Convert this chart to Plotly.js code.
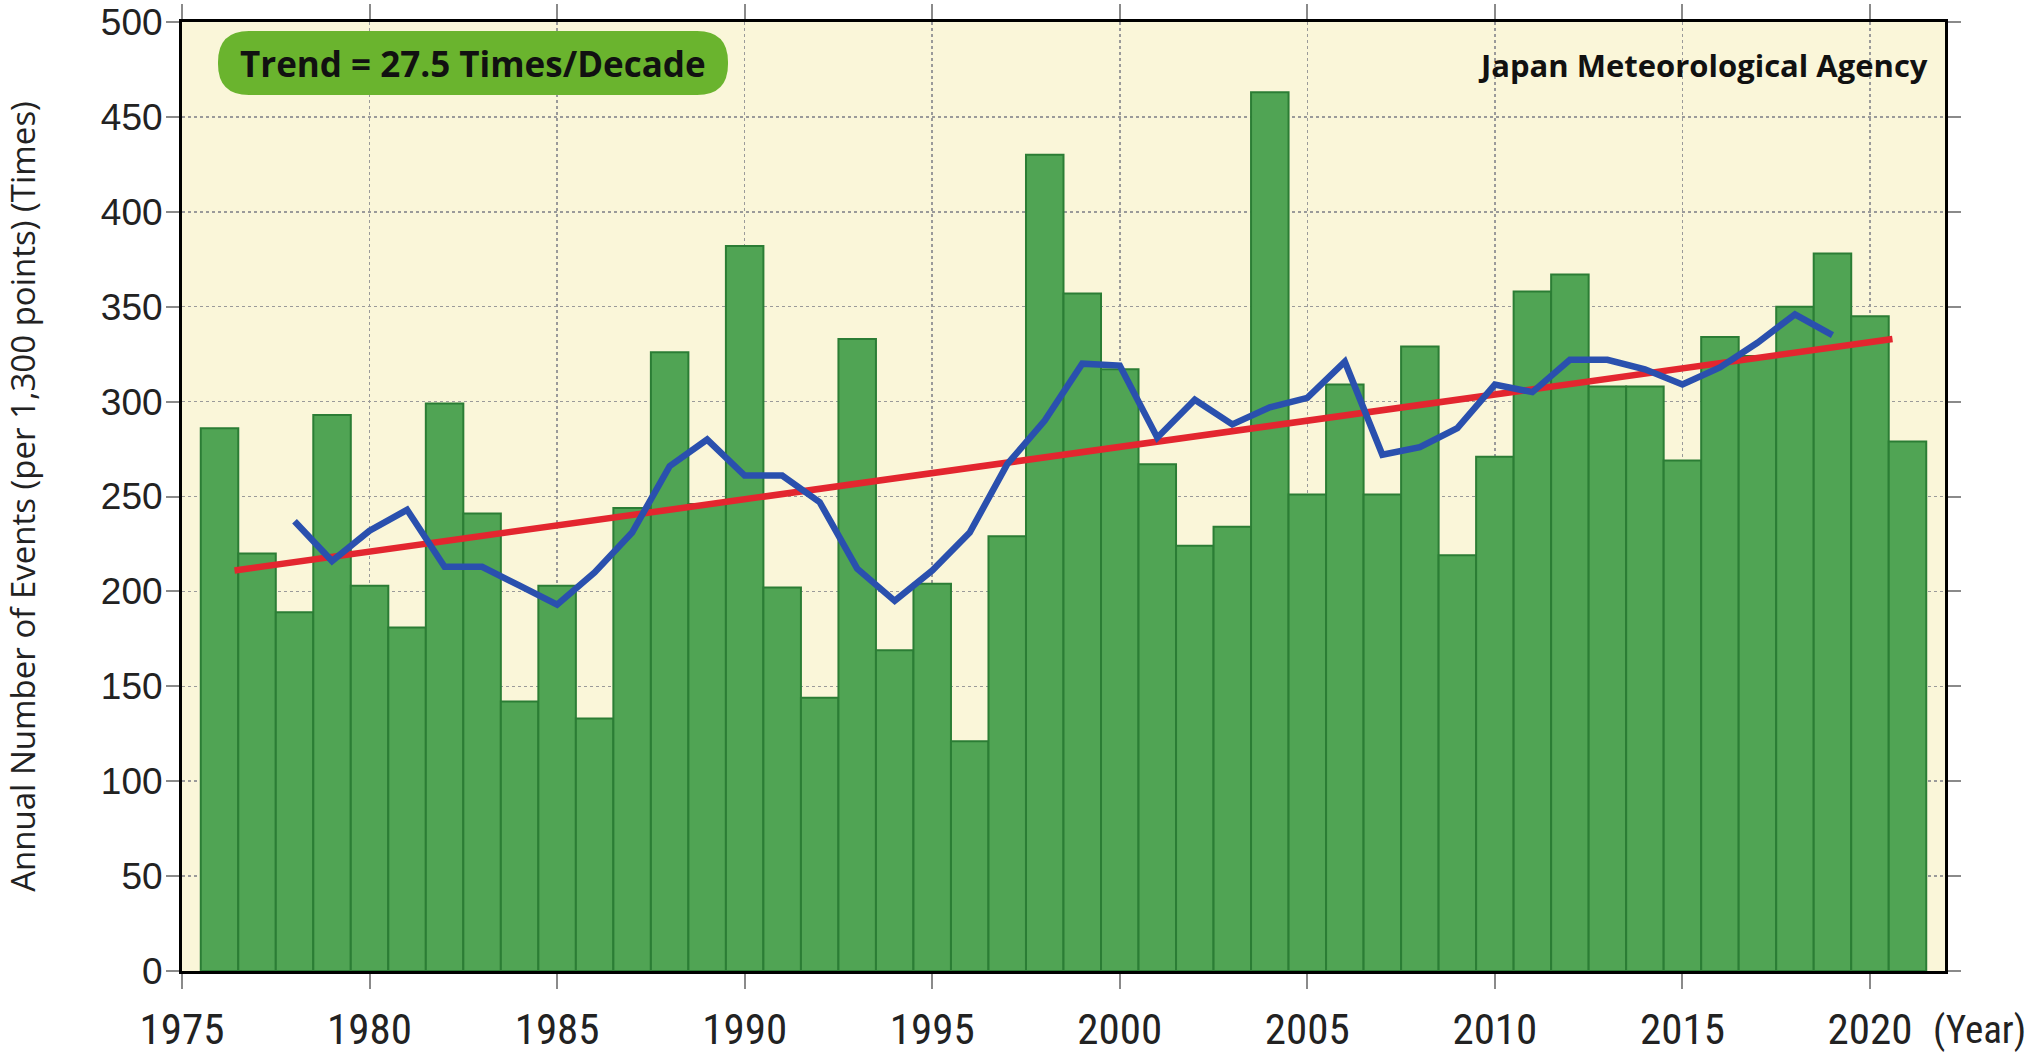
<!DOCTYPE html>
<html>
<head>
<meta charset="utf-8">
<script src="https://cdn.plot.ly/plotly-3.0.1.min.js"></script>
<style>
  html, body { margin: 0; padding: 0; background: #ffffff; }
  #chart { width: 2030px; height: 1053px; }
</style>
</head>
<body>
<div id="chart"></div>
<script>
// ---- Data ----
const years = [1976,1977,1978,1979,1980,1981,1982,1983,1984,1985,1986,1987,1988,1989,1990,
               1991,1992,1993,1994,1995,1996,1997,1998,1999,2000,2001,2002,2003,2004,2005,
               2006,2007,2008,2009,2010,2011,2012,2013,2014,2015,2016,2017,2018,2019,2020,2021];
const annualCounts = [286,220,189,293,203,181,299,241,142,203,133,244,326,246,382,
                      202,144,333,169,204,121,229,430,357,317,267,224,234,463,251,
                      309,251,329,219,271,358,367,308,308,269,334,324,350,378,345,279];

const meanYears = [1978,1979,1980,1981,1982,1983,1984,1985,1986,1987,1988,1989,1990,1991,
                   1992,1993,1994,1995,1996,1997,1998,1999,2000,2001,2002,2003,2004,2005,
                   2006,2007,2008,2009,2010,2011,2012,2013,2014,2015,2016,2017,2018,2019];
const runningMean5yr = [237,216,232,243,213,213,203,193,210,231,266,280,261,261,
                        247,212,195,211,231,267,290,320,319,281,301,288,297,302,
                        321,272,276,286,309,305,322,322,317,309,318,331,346,335];

const trendYears = [1976.4, 2020.6];
const trendValues = [211, 333];

const xTickVals = [1975,1980,1985,1990,1995,2000,2005,2010,2015,2020];
const xTickText = ["1975","1980","1985","1990","1995","2000","2005","2010","2015","2020"];
const yTickVals = [0,50,100,150,200,250,300,350,400,450,500];

const trendLabel = "Trend = 27.5 Times/Decade";
const sourceLabel = "Japan Meteorological Agency";
const yTitle = "Annual Number of Events (per 1,300 points) (Times)";
const xUnit = "(Year)";

// ---- Layout geometry (pixels) ----
const W = 2030, H = 1053;
const M = { l: 182, r: 85, t: 22, b: 82 };
const PW = W - M.l - M.r, PH = H - M.t - M.b;

const narrowFont = 'Liberation Sans Narrow, Arial Narrow, Roboto Condensed, Liberation Sans, sans-serif';

// rounded box for the trend label (paper coordinates)
function roundedBox(px0, py0, px1, py1, rad) {
  const x0 = (px0 - M.l) / PW, x1 = (px1 - M.l) / PW;
  const y0 = (H - M.b - py1) / PH, y1 = (H - M.b - py0) / PH;
  const rx = rad / PW, ry = rad / PH;
  return `M ${x0 + rx},${y1} L ${x1 - rx},${y1} Q ${x1},${y1} ${x1},${y1 - ry} ` +
         `L ${x1},${y0 + ry} Q ${x1},${y0} ${x1 - rx},${y0} L ${x0 + rx},${y0} ` +
         `Q ${x0},${y0} ${x0},${y0 + ry} L ${x0},${y1 - ry} Q ${x0},${y1} ${x0 + rx},${y1} Z`;
}

const traces = [
  {
    type: 'bar', x: years, y: annualCounts, width: 1,
    marker: { color: '#50a454', line: { color: '#2b7d35', width: 2 } },
    hoverinfo: 'x+y', showlegend: false
  },
  {
    type: 'scatter', mode: 'lines', x: trendYears, y: trendValues,
    line: { color: '#e3262f', width: 6.5 }, showlegend: false
  },
  {
    type: 'scatter', mode: 'lines', x: meanYears, y: runningMean5yr,
    line: { color: '#2a50ae', width: 6.5 }, showlegend: false
  }
];

const axisCommon = {
  showline: true, linecolor: '#000000', linewidth: 3, mirror: 'ticks',
  ticks: 'outside', tickcolor: '#8a8a8a', tickwidth: 2,
  showgrid: true, gridcolor: '#9a9a9a', gridwidth: 1.5, griddash: 'dot',
  zeroline: false, fixedrange: true
};

const layout = {
  width: W, height: H,
  margin: M,
  paper_bgcolor: '#ffffff',
  plot_bgcolor: '#faf6d9',
  bargap: 0,
  xaxis: Object.assign({}, axisCommon, {
    range: [1975, 2022], tickmode: 'array', tickvals: xTickVals, ticktext: xTickText,
    ticklen: 15, ticklabelstandoff: 3,
    tickfont: { family: narrowFont, size: 43, color: '#222222' }
  }),
  yaxis: Object.assign({}, axisCommon, {
    range: [0, 500], tickmode: 'array', tickvals: yTickVals,
    ticklen: 13, ticklabelstandoff: -4,
    tickfont: { family: 'Liberation Sans, Arial, sans-serif', size: 37, color: '#222222' },
    title: { text: yTitle, standoff: 76,
             font: { family: 'Open Sans, Noto Sans, sans-serif', size: 33, color: '#222222' } }
  }),
  shapes: [
    { type: 'path', xref: 'paper', yref: 'paper', path: roundedBox(218, 31, 728, 95, 31),
      fillcolor: '#6ab42e', line: { width: 0 }, layer: 'above' }
  ],
  annotations: [
    { xref: 'paper', yref: 'paper', x: (473 - M.l) / PW, y: (H - M.b - 63) / PH,
      xanchor: 'center', yanchor: 'middle', showarrow: false, text: trendLabel,
      font: { family: 'Open Sans, Noto Sans, sans-serif', size: 35, color: '#111111', weight: 'bold' } },
    { xref: 'paper', yref: 'paper', x: (1930 - M.l) / PW, y: (H - M.b - 65) / PH,
      xanchor: 'right', yanchor: 'middle', showarrow: false, text: sourceLabel,
      font: { family: 'Open Sans, Noto Sans, sans-serif', size: 31, color: '#111111', weight: 'bold' } },
    { xref: 'paper', yref: 'paper', x: (1931 - M.l) / PW, y: (H - M.b - 1030) / PH,
      xanchor: 'left', yanchor: 'middle', showarrow: false, text: xUnit,
      font: { family: narrowFont, size: 39, color: '#222222' } }
  ]
};

Plotly.newPlot('chart', traces, layout, { displayModeBar: false, staticPlot: true });
</script>
</body>
</html>
